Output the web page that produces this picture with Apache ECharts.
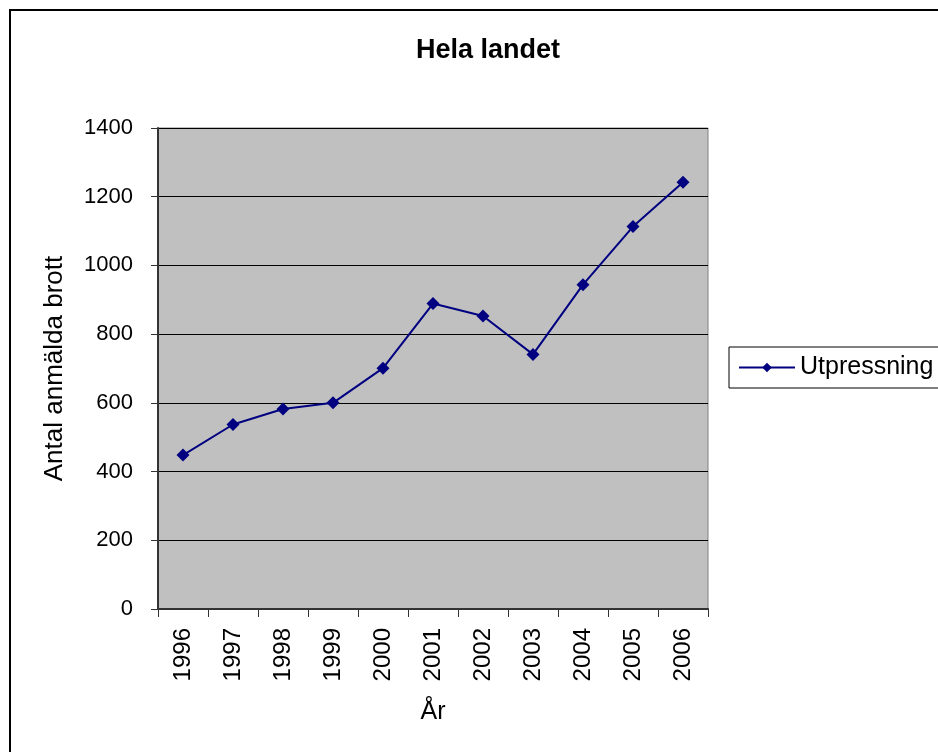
<!DOCTYPE html>
<html>
<head>
<meta charset="utf-8">
<script src="https://cdn.jsdelivr.net/npm/echarts@6/dist/echarts.min.js"></script>
<style>html,body{margin:0;padding:0;background:#fff;}#c{width:938px;height:752px;}</style>
</head>
<body>
<div id="c"></div>
<script>
const years = ['1996','1997','1998','1999','2000','2001','2002','2003','2004','2005','2006'];
const utpressning = [448, 537, 582, 600, 701, 889, 853, 741, 944, 1113, 1242];
const yTicks = [0, 200, 400, 600, 800, 1000, 1200, 1400];

const chart = echarts.init(document.getElementById('c'), null, {renderer: 'canvas'});
const font = 'Arial, "Liberation Sans", sans-serif';
chart.setOption({
  animation: false,
  backgroundColor: '#fff',
  graphic: [
    {type: 'rect', shape: {x: 10, y: 10, width: 940, height: 750}, style: {fill: 'none', stroke: '#000', lineWidth: 2}, z: 100}
  ],
  title: {
    text: 'Hela landet', left: 483, top: 32, textAlign: 'center',
    textStyle: {fontFamily: font, fontSize: 27, fontWeight: 'bold', color: '#000'}
  },
  legend: {
    left: 729, top: 347, width: 230, height: 42,
    orient: 'vertical',
    padding: [8, 40, 8, 9],
    borderColor: '#000', borderWidth: 1,
    itemWidth: 56, itemHeight: 12, itemGap: 0,
    textStyle: {fontFamily: font, fontSize: 25, color: '#000', padding: [0, 0, 0, 0]},
    data: ['Utpressning']
  },
  grid: {left: 158, right: 230, top: 128, bottom: 143, show: true, backgroundColor: '#C0C0C0', borderColor: '#808080', borderWidth: 1},
  xAxis: {
    type: 'category', data: years, boundaryGap: true,
    name: 'År', nameLocation: 'middle', nameGap: 91,
    nameTextStyle: {fontFamily: font, fontSize: 25, color: '#000'},
    axisLine: {lineStyle: {color: '#333', width: 2}},
    axisTick: {show: true, length: 8, alignWithLabel: false, lineStyle: {color: '#333'}},
    axisLabel: {rotate: 90, fontFamily: font, fontSize: 24, color: '#000', margin: 19}
  },
  yAxis: {
    type: 'value', min: 0, max: 1400, interval: 200,
    name: 'Antal anmälda brott', nameLocation: 'middle', nameGap: 90,
    nameTextStyle: {fontFamily: font, fontSize: 26, color: '#000'},
    axisLine: {show: true, lineStyle: {color: '#333', width: 2}},
    axisTick: {show: true, length: 7, lineStyle: {color: '#333'}},
    axisLabel: {fontFamily: font, fontSize: 22, color: '#000', margin: 25,
      formatter: v => yTicks.includes(v) ? String(v) : ''},
    splitLine: {show: true, lineStyle: {color: '#000', width: 1}}
  },
  series: [{
    name: 'Utpressning', type: 'line', data: utpressning,
    symbol: 'diamond', symbolSize: 13,
    lineStyle: {color: '#000080', width: 2},
    itemStyle: {color: '#000080'}
  }]
});
</script>
</body>
</html>
